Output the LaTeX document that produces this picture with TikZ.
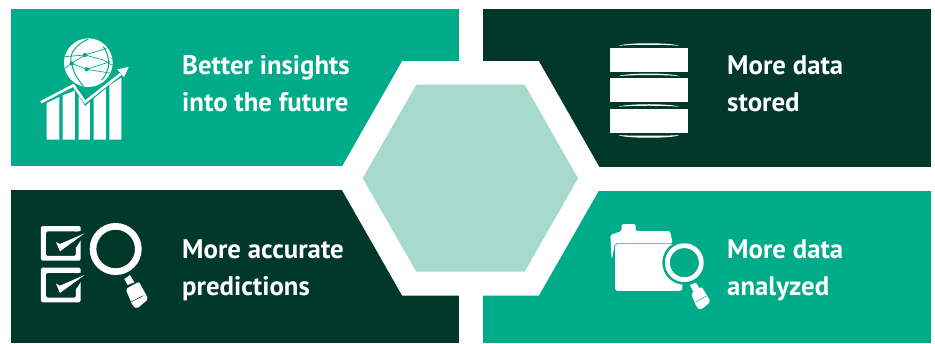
\documentclass[tikz,border=0pt]{standalone}
\usepackage{fontspec}
\setmainfont{PT Sans}
\definecolor{teal}{HTML}{00AB8A}
\definecolor{deep}{HTML}{00382A}
\definecolor{pale}{HTML}{A5DACD}
\tikzset{
  label text/.style={text=white,font=\fontsize{26.8}{37}\selectfont\bfseries,align=left,anchor=west,inner sep=0pt},
  icon/.style={x=0.3333pt,y=-0.3333pt},
  ink/.style={fill=white,draw=none},
  mesh/.style={draw=teal,line width=0.7pt},
}
\begin{document}
\begin{tikzpicture}[x=1pt,y=-1pt]
\useasboundingbox (0,0) rectangle (935,343);
\fill[white] (0,0) rectangle (935,343);
% panels
\fill[teal] (11,9) rectangle (459,166);
\fill[deep] (483,9) rectangle (931,167);
\fill[deep] (11,190) rectangle (459,343);
\fill[teal] (483,191) rectangle (931,343);
% hexagons
\fill[white] (402.3,61) -- (538.7,61) -- (605.8,178.3) -- (538.7,295.7) -- (402.3,295.7) -- (335.3,178.3) -- cycle;
\fill[pale] (416.3,84.7) -- (524.7,84.7) -- (578,178.3) -- (524.7,271.7) -- (416.3,271.7) -- (362.7,178.3) -- cycle;
% texts
\node[label text] (t1) at (182,84) {Better insights\\into the future};
\node[label text] (t2) at (727,84) {More data\\stored};
\node[label text] (t3) at (182,270) {More accurate\\predictions};
\node[label text] (t4) at (727,270) {More data\\analyzed};
% icon 1: globe + chart
\begin{scope}[icon]
  \fill[white] (265,188) circle (73);
  \begin{scope}
    \clip (265,188) circle (73);
    \draw[mesh] (195,170) -- (255,165) -- (320,145);
    \draw[mesh] (255,165) -- (310,180) -- (335,195);
    \draw[mesh] (195,205) -- (215,190) -- (255,165);
    \draw[mesh] (215,190) -- (260,208) -- (330,185);
    \draw[mesh] (260,208) -- (335,220);
    \draw[mesh,line width=1pt] (265,117) .. controls (225,135) and (205,165) .. (215,190) .. controls (220,220) and (235,240) .. (250,258);
    \draw[mesh,line width=1pt] (310,140) .. controls (330,170) and (335,205) .. (305,240);
    \fill[teal] (255,165) circle (6.5) (215,190) circle (6.5) (260,208) circle (6.5);
  \end{scope}
  \fill[ink] (140,419) -- (140,309) -- (178,291) -- (178,419) -- cycle;
  \fill[ink] (188,419) -- (188,286) -- (225,272) -- (225,419) -- cycle;
  \fill[ink] (236,419) -- (236,288) -- (255,318) -- (270,306) -- (270,419) -- cycle;
  \fill[ink] (281,419) -- (281,296) -- (318,266) -- (318,419) -- cycle;
  \fill[ink] (328,419) -- (328,256) -- (364,233) -- (364,419) -- cycle;
  \draw[white,line width=2.6pt,line join=miter] (123,307) -- (220,256) -- (255,306) -- (362,222);
  \fill[ink] (386,201) -- (352,208) -- (372,232) -- cycle;
\end{scope}
% icon 2: database
\begin{scope}[shift={(590,30)},icon]
  \foreach \yy in {53,144,237} \fill[ink] (60,\yy) rectangle (294,\yy+73);
  \foreach \yy in {48,139,231}
    \fill[ink] (86,\yy) .. controls (100,\yy-11) and (253,\yy-11) .. (267,\yy) .. controls (253,\yy-5) and (100,\yy-5) .. cycle;
  \fill[ink] (86,315) .. controls (100,318) and (253,318) .. (267,315) .. controls (253,326) and (100,326) .. cycle;
\end{scope}
% icon 3: checks + magnifier
\begin{scope}[shift={(20,210)},icon]
  \foreach \yy in {48,173} {
    \begin{scope}[shift={(0,\yy)}]
      \fill[ink,rounded corners=1.5pt,even odd rule] (63,0) rectangle (182,104) (78,16) rectangle (168,90);
      \fill[deep] (105,22) -- (200,14) -- (170,62) -- (118,80) -- cycle;
      \fill[ink] (108,48) -- (120,54) -- (194,22) -- (128,70) -- (120,76) -- cycle;
    \end{scope}
  }
  \draw[white,line width=6.7pt] (287,117) circle (68);
  \fill[ink] (313,207) -- (330,195) -- (343,217) -- (323,225) -- cycle;
  \fill[ink,rounded corners=2pt] (317,237) -- (357,215) -- (385,267) -- (350,297) -- (338,287) -- cycle;
  \draw[deep,line width=0.5pt] (333,276) -- (370,257);
\end{scope}
% icon 4: folder + magnifier
\begin{scope}[shift={(595,215)},icon]
  \fill[ink,rounded corners=1.5pt] (80,48) -- (80,27) -- (122,27) -- (122,48) -- (225,48) -- (233,85) -- (60,85) -- (50,135) -- (46,60) -- cycle;
  \fill[ink,rounded corners=3pt] (60,87) rectangle (262,228);
  \fill[teal] (268,143) circle (66);
  \draw[white,line width=4.8pt] (268,143) circle (51);
  \fill[ink] (285,210) -- (303,203) -- (315,223) -- (295,230) -- cycle;
  \fill[ink,rounded corners=2pt] (288,235) -- (320,215) -- (347,260) -- (317,285) -- (305,277) -- cycle;
  \draw[teal,line width=0.5pt] (300,262) -- (335,243);
\end{scope}
\end{tikzpicture}
\end{document}
